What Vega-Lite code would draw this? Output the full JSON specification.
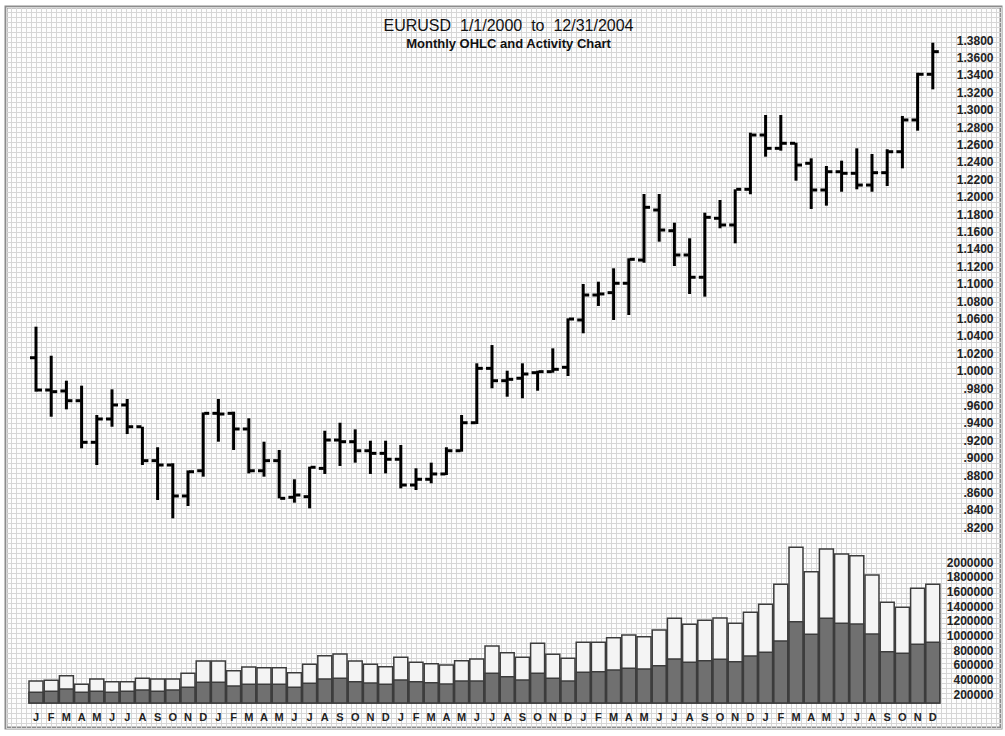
{
  "$schema": "https://vega.github.io/schema/vega-lite/v6.json",
  "width": 995,
  "height": 721,
  "autosize": "none",
  "padding": {"left": 6, "top": 7, "right": 4, "bottom": 8},
  "background": "white",
  "config": {
    "view": {"stroke": "#8c8c8c", "strokeWidth": 3, "fill": "#fdfdfd"},
    "font": "Liberation Sans"
  },
  "title": {
    "text": "EURUSD\u00a0 1/1/2000\u00a0 to\u00a0 12/31/2004",
    "subtitle": "Monthly OHLC and Activity Chart",
    "anchor": "middle",
    "frame": "group",
    "offset": -44,
    "dx": 5,
    "fontSize": 16,
    "fontWeight": "normal",
    "color": "#111111",
    "subtitleFontSize": 13,
    "subtitleFontWeight": "bold",
    "subtitleColor": "#111111",
    "subtitlePadding": 4,
    "font": "Liberation Sans",
    "subtitleFont": "Liberation Sans"
  },
  "data": {"values": [
    {"m": "2000-01", "o": 1.0149, "h": 1.0506, "l": 0.9759, "c": 0.9778, "v": 299000, "vd": 145000},
    {"m": "2000-02", "o": 0.9778, "h": 1.0172, "l": 0.9471, "c": 0.9759, "v": 308000, "vd": 159000},
    {"m": "2000-03", "o": 0.9767, "h": 0.9885, "l": 0.9556, "c": 0.9655, "v": 372000, "vd": 190000},
    {"m": "2000-04", "o": 0.9655, "h": 0.9828, "l": 0.9108, "c": 0.9177, "v": 254000, "vd": 145000},
    {"m": "2000-05", "o": 0.9177, "h": 0.9491, "l": 0.8916, "c": 0.9445, "v": 327000, "vd": 159000},
    {"m": "2000-06", "o": 0.9445, "h": 0.9786, "l": 0.9356, "c": 0.9606, "v": 290000, "vd": 145000},
    {"m": "2000-07", "o": 0.9606, "h": 0.9675, "l": 0.9272, "c": 0.9356, "v": 290000, "vd": 159000},
    {"m": "2000-08", "o": 0.9356, "h": 0.9356, "l": 0.8916, "c": 0.8966, "v": 336000, "vd": 177000},
    {"m": "2000-09", "o": 0.8966, "h": 0.9120, "l": 0.8514, "c": 0.8916, "v": 327000, "vd": 159000},
    {"m": "2000-10", "o": 0.8916, "h": 0.8936, "l": 0.8303, "c": 0.8560, "v": 327000, "vd": 177000},
    {"m": "2000-11", "o": 0.8560, "h": 0.8854, "l": 0.8445, "c": 0.8839, "v": 404000, "vd": 213000},
    {"m": "2000-12", "o": 0.8850, "h": 0.9520, "l": 0.8782, "c": 0.9510, "v": 571000, "vd": 281000},
    {"m": "2001-01", "o": 0.9510, "h": 0.9675, "l": 0.9184, "c": 0.9502, "v": 571000, "vd": 281000},
    {"m": "2001-02", "o": 0.9510, "h": 0.9529, "l": 0.9089, "c": 0.9330, "v": 440000, "vd": 231000},
    {"m": "2001-03", "o": 0.9330, "h": 0.9453, "l": 0.8820, "c": 0.8850, "v": 490000, "vd": 254000},
    {"m": "2001-04", "o": 0.8850, "h": 0.9184, "l": 0.8782, "c": 0.8966, "v": 481000, "vd": 254000},
    {"m": "2001-05", "o": 0.8966, "h": 0.9089, "l": 0.8533, "c": 0.8533, "v": 481000, "vd": 254000},
    {"m": "2001-06", "o": 0.8545, "h": 0.8752, "l": 0.8483, "c": 0.8571, "v": 413000, "vd": 213000},
    {"m": "2001-07", "o": 0.8552, "h": 0.8897, "l": 0.8418, "c": 0.8890, "v": 526000, "vd": 268000},
    {"m": "2001-08", "o": 0.8877, "h": 0.9310, "l": 0.8813, "c": 0.9203, "v": 644000, "vd": 327000},
    {"m": "2001-09", "o": 0.9203, "h": 0.9402, "l": 0.8905, "c": 0.9184, "v": 667000, "vd": 336000},
    {"m": "2001-10", "o": 0.9184, "h": 0.9326, "l": 0.8943, "c": 0.9080, "v": 571000, "vd": 290000},
    {"m": "2001-11", "o": 0.9080, "h": 0.9195, "l": 0.8813, "c": 0.9050, "v": 526000, "vd": 272000},
    {"m": "2001-12", "o": 0.9050, "h": 0.9195, "l": 0.8820, "c": 0.8982, "v": 494000, "vd": 254000},
    {"m": "2002-01", "o": 0.8982, "h": 0.9146, "l": 0.8648, "c": 0.8686, "v": 621000, "vd": 313000},
    {"m": "2002-02", "o": 0.8686, "h": 0.8878, "l": 0.8629, "c": 0.8752, "v": 553000, "vd": 290000},
    {"m": "2002-03", "o": 0.8752, "h": 0.8943, "l": 0.8706, "c": 0.8813, "v": 535000, "vd": 277000},
    {"m": "2002-04", "o": 0.8813, "h": 0.9120, "l": 0.8801, "c": 0.9080, "v": 517000, "vd": 258000},
    {"m": "2002-05", "o": 0.9080, "h": 0.9491, "l": 0.9069, "c": 0.9402, "v": 576000, "vd": 299000},
    {"m": "2002-06", "o": 0.9402, "h": 1.0085, "l": 0.9387, "c": 1.0027, "v": 599000, "vd": 299000},
    {"m": "2002-07", "o": 1.0027, "h": 1.0295, "l": 0.9798, "c": 0.9885, "v": 775000, "vd": 404000},
    {"m": "2002-08", "o": 0.9885, "h": 1.0000, "l": 0.9701, "c": 0.9901, "v": 685000, "vd": 358000},
    {"m": "2002-09", "o": 0.9912, "h": 1.0085, "l": 0.9683, "c": 0.9962, "v": 621000, "vd": 313000},
    {"m": "2002-10", "o": 0.9977, "h": 1.0000, "l": 0.9770, "c": 0.9989, "v": 812000, "vd": 404000},
    {"m": "2002-11", "o": 0.9989, "h": 1.0257, "l": 0.9977, "c": 1.0016, "v": 662000, "vd": 336000},
    {"m": "2002-12", "o": 1.0039, "h": 1.0602, "l": 0.9939, "c": 1.0594, "v": 608000, "vd": 299000},
    {"m": "2003-01", "o": 1.0583, "h": 1.0997, "l": 1.0430, "c": 1.0870, "v": 825000, "vd": 417000},
    {"m": "2003-02", "o": 1.0870, "h": 1.1023, "l": 1.0744, "c": 1.0882, "v": 825000, "vd": 426000},
    {"m": "2003-03", "o": 1.0897, "h": 1.1177, "l": 1.0583, "c": 1.1005, "v": 889000, "vd": 449000},
    {"m": "2003-04", "o": 1.1005, "h": 1.1292, "l": 1.0640, "c": 1.1280, "v": 925000, "vd": 472000},
    {"m": "2003-05", "o": 1.1272, "h": 1.2031, "l": 1.1241, "c": 1.1878, "v": 902000, "vd": 463000},
    {"m": "2003-06", "o": 1.1847, "h": 1.2031, "l": 1.1483, "c": 1.1617, "v": 993000, "vd": 508000},
    {"m": "2003-07", "o": 1.1609, "h": 1.1701, "l": 1.1203, "c": 1.1330, "v": 1152000, "vd": 599000},
    {"m": "2003-08", "o": 1.1330, "h": 1.1522, "l": 1.0882, "c": 1.1074, "v": 1070000, "vd": 553000},
    {"m": "2003-09", "o": 1.1074, "h": 1.1816, "l": 1.0851, "c": 1.1763, "v": 1125000, "vd": 576000},
    {"m": "2003-10", "o": 1.1752, "h": 1.1962, "l": 1.1637, "c": 1.1675, "v": 1156000, "vd": 594000},
    {"m": "2003-11", "o": 1.1675, "h": 1.2085, "l": 1.1464, "c": 1.2085, "v": 1084000, "vd": 562000},
    {"m": "2003-12", "o": 1.2085, "h": 1.2736, "l": 1.2028, "c": 1.2709, "v": 1234000, "vd": 639000},
    {"m": "2004-01", "o": 1.2709, "h": 1.2939, "l": 1.2460, "c": 1.2556, "v": 1342000, "vd": 689000},
    {"m": "2004-02", "o": 1.2556, "h": 1.2939, "l": 1.2529, "c": 1.2614, "v": 1614000, "vd": 844000},
    {"m": "2004-03", "o": 1.2614, "h": 1.2621, "l": 1.2184, "c": 1.2364, "v": 2118000, "vd": 1107000},
    {"m": "2004-04", "o": 1.2384, "h": 1.2441, "l": 1.1859, "c": 1.2077, "v": 1787000, "vd": 934000},
    {"m": "2004-05", "o": 1.2077, "h": 1.2353, "l": 1.1897, "c": 1.2287, "v": 2095000, "vd": 1152000},
    {"m": "2004-06", "o": 1.2287, "h": 1.2414, "l": 1.2057, "c": 1.2269, "v": 2027000, "vd": 1084000},
    {"m": "2004-07", "o": 1.2269, "h": 1.2556, "l": 1.2085, "c": 1.2134, "v": 2004000, "vd": 1075000},
    {"m": "2004-08", "o": 1.2134, "h": 1.2491, "l": 1.2057, "c": 1.2276, "v": 1741000, "vd": 939000},
    {"m": "2004-09", "o": 1.2276, "h": 1.2545, "l": 1.2123, "c": 1.2517, "v": 1370000, "vd": 698000},
    {"m": "2004-10", "o": 1.2517, "h": 1.2928, "l": 1.2326, "c": 1.2882, "v": 1302000, "vd": 676000},
    {"m": "2004-11", "o": 1.2882, "h": 1.3425, "l": 1.2759, "c": 1.3407, "v": 1560000, "vd": 798000},
    {"m": "2004-12", "o": 1.3407, "h": 1.3770, "l": 1.3234, "c": 1.3667, "v": 1614000, "vd": 825000}
  ]},
  "layer": [
    {
      "mark": {"type": "point", "opacity": 0},
      "encoding": {
        "x": {"datum": 0, "type": "quantitative",
          "scale": {"domain": [0, 995], "nice": false, "zero": false},
          "axis": {"orient": "top", "grid": true, "gridColor": "#d6d6d6", "gridWidth": 1, "tickCount": 199, "labels": false, "ticks": false, "domain": false, "title": null}},
        "y": {"datum": 0, "type": "quantitative",
          "scale": {"domain": [0, 720], "nice": false, "zero": false},
          "axis": {"orient": "left", "grid": true, "gridColor": "#d6d6d6", "gridWidth": 1, "tickCount": 144, "labels": false, "ticks": false, "domain": false, "title": null}}
      }
    },
    {
      "encoding": {
        "x": {"field": "m", "type": "ordinal",
          "scale": {"range": [22.4, 934.4], "paddingInner": 0.08, "paddingOuter": 0.04},
          "axis": {"orient": "bottom", "offset": -25, "title": null, "ticks": false, "domain": false, "grid": false, "labelAngle": 0,
            "labelExpr": "slice('JFMAMJJASOND', toNumber(slice(datum.value, 5, 7)) - 1, toNumber(slice(datum.value, 5, 7)))",
            "labelFont": "Liberation Sans", "labelFontSize": 11, "labelFontWeight": "bold", "labelColor": "#222222", "labelPadding": 8}}
      },
      "layer": [
        {
          "layer": [
            {
              "mark": {"type": "bar", "fill": "#f4f4f4", "stroke": "#3c3c3c", "strokeWidth": 1.5},
              "encoding": {
                "y": {"field": "v", "type": "quantitative",
                  "scale": {"domain": [0, 2200000], "range": [696, 534.3], "nice": false, "zero": false},
                  "axis": {"orient": "right", "offset": -8, "title": null, "ticks": false, "domain": false, "grid": false, "tickCount": 11,
                    "labelAlign": "right", "labelPadding": 0, "labelOffset": 6,
                    "labelExpr": "datum.value < 100000 || datum.value > 2100000 ? '' : format(datum.value, 'd')",
                    "labelFont": "Liberation Sans", "labelFontSize": 12, "labelFontWeight": "bold", "labelColor": "#222222"}}
              }
            },
            {
              "mark": {"type": "bar", "fill": "#707070", "stroke": "#3c3c3c", "strokeWidth": 1.5},
              "encoding": {
                "y": {"field": "vd", "type": "quantitative"}
              }
            }
          ]
        },
        {
          "layer": [
            {
              "mark": {"type": "rule", "color": "#000000", "strokeWidth": 3},
              "encoding": {
                "y": {"field": "l", "type": "quantitative",
                  "scale": {"domain": [0.819, 1.381], "range": [521.17, 32.23], "nice": false, "zero": false},
                  "axis": {"orient": "right", "offset": -8, "title": null, "ticks": false, "domain": false, "grid": false, "tickCount": 28,
                    "labelAlign": "right", "labelPadding": 0,
                    "labelExpr": "datum.value >= 1 ? format(datum.value, '.4f') : replace(format(datum.value, '.4f'), '0.', '.')",
                    "labelFont": "Liberation Sans", "labelFontSize": 12, "labelFontWeight": "bold", "labelColor": "#222222"}},
                "y2": {"field": "h"}
              }
            },
            {
              "mark": {"type": "tick", "orient": "horizontal", "size": 5, "thickness": 3, "xOffset": -3.5, "color": "#000000", "opacity": 1},
              "encoding": {
                "y": {"field": "o", "type": "quantitative"}
              }
            },
            {
              "mark": {"type": "tick", "orient": "horizontal", "size": 5, "thickness": 3, "xOffset": 3.5, "color": "#000000", "opacity": 1},
              "encoding": {
                "y": {"field": "c", "type": "quantitative"}
              }
            }
          ]
        }
      ],
      "resolve": {"scale": {"y": "independent"}, "axis": {"y": "independent"}}
    }
  ],
  "resolve": {"scale": {"x": "independent", "y": "independent"}, "axis": {"x": "independent", "y": "independent"}}
}
